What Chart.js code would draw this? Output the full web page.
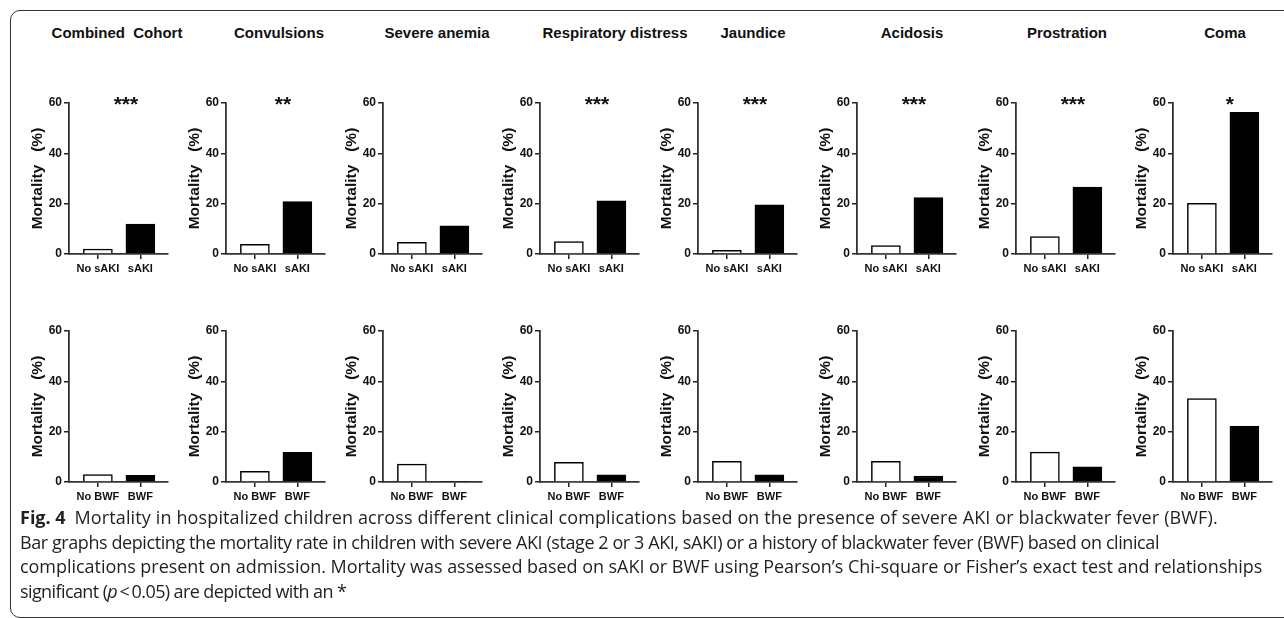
<!DOCTYPE html>
<html>
<head>
<meta charset="utf-8">
<script src="https://cdn.jsdelivr.net/npm/chart.js@4.4.1/dist/chart.umd.min.js"></script>
<style>
  html, body { margin: 0; padding: 0; background: #fff; }
  body { width: 1284px; height: 618px; overflow: hidden; position: relative; }
  .frame {
    position: absolute; left: 10px; top: 10px; width: 1290px; height: 608px;
    border: 1.2px solid #333; border-radius: 10px; box-sizing: border-box;
  }
  .ttl {
    position: absolute; top: 24px; height: 17px; line-height: 17px;
    font: bold 15px "Liberation Sans", Arial, sans-serif; color: #111;
    white-space: pre; transform: translateX(-50%);
  }
  .panel { position: absolute; }
  .caption {
    position: absolute; left: 20px; top: 505px;
    font: 18px "Open Sans", sans-serif; color: #231f20;
    line-height: 24.6px; white-space: nowrap;
  }
  .caption span { display: block; }
  .caption b { font-weight: 700; margin-right: 4px; letter-spacing: 0; }
</style>
</head>
<body>
<div class="frame"></div>
<div id="titles"></div>
<div id="panels"></div>
<div class="caption">
<span style="letter-spacing:0.13px"><b>Fig. 4</b> Mortality in hospitalized children across different clinical complications based on the presence of severe AKI or blackwater fever (BWF).</span>
<span style="letter-spacing:-0.42px">Bar graphs depicting the mortality rate in children with severe AKI (stage 2 or 3 AKI, sAKI) or a history of blackwater fever (BWF) based on clinical</span>
<span style="letter-spacing:-0.04px">complications present on admission. Mortality was assessed based on sAKI or BWF using Pearson’s Chi-square or Fisher’s exact test and relationships</span>
<span style="letter-spacing:-0.6px">significant (<i>p</i>&thinsp;&lt;&thinsp;0.05) are depicted with an *</span>
</div>
<script>
const complications = ['Combined  Cohort', 'Convulsions', 'Severe anemia', 'Respiratory distress', 'Jaundice', 'Acidosis', 'Prostration', 'Coma'];
const sakiGroups = ['No sAKI', 'sAKI'];
const bwfGroups = ['No BWF', 'BWF'];

const noSaki = [2.0, 3.8, 4.6, 4.9, 1.5, 3.3, 6.9, 20.1];
const saki = [11.9, 20.8, 11.2, 21.1, 19.5, 22.4, 26.6, 56.3];
const noBwf = [2.9, 4.2, 7.1, 7.8, 8.2, 8.2, 11.9, 33.1];
const bwf = [2.7, 11.8, 0.3, 2.8, 2.8, 2.4, 6.0, 22.2];

const sakiStars = ['***', '**', '', '***', '***', '***', '***', '*'];
const yTicks = [0, 20, 40, 60];

// layout: pixel x of each y axis, title centres
const axisX = [69, 226, 383, 540, 698, 857, 1016, 1173];
const titleX = [117, 279, 437, 615, 753, 912, 1067, 1225];
const rowTop = [103, 331];

Chart.defaults.font.family = '"Liberation Sans", Arial, sans-serif';
Chart.defaults.font.weight = 'bold';
Chart.defaults.color = '#111';
Chart.defaults.animation = false;

const starPlugin = {
  id: 'stars',
  afterDraw(chart, args, opts) {
    if (!opts.text) return;
    const { ctx, scales } = chart;
    ctx.save();
    ctx.font = 'bold 21px "Liberation Sans", Arial, sans-serif';
    ctx.fillStyle = '#111';
    ctx.textAlign = 'center';
    ctx.textBaseline = 'alphabetic';
    ctx.fillText(opts.text, scales.x.getPixelForValue(0.66), scales.y.getPixelForValue(60) + 8);
    ctx.restore();
  }
};

const titlesEl = document.getElementById('titles');
complications.forEach((c, i) => {
  const d = document.createElement('div');
  d.className = 'ttl';
  d.style.left = titleX[i] + 'px';
  d.textContent = c;
  titlesEl.appendChild(d);
});

const panelsEl = document.getElementById('panels');

function makePanel(i, row, groups, a, b, stars) {
  const W = 60 + 100, H = 20 + 151 + 26;
  const wrap = document.createElement('div');
  wrap.className = 'panel';
  wrap.style.left = (axisX[i] - 60) + 'px';
  wrap.style.top = (rowTop[row] - 20) + 'px';
  wrap.style.width = W + 'px';
  wrap.style.height = H + 'px';
  const cv = document.createElement('canvas');
  wrap.appendChild(cv);
  panelsEl.appendChild(wrap);

  new Chart(cv, {
    type: 'bar',
    data: {
      datasets: [{
        data: [{ x: 0, y: a }, { x: 1, y: b }],
        backgroundColor: ['#ffffff', '#000000'],
        borderColor: '#000',
        borderWidth: 1.5,
        barThickness: 29
      }]
    },
    options: {
      responsive: true,
      maintainAspectRatio: false,
      layout: { padding: { top: 20, right: 1, left: 0, bottom: 0 } },
      plugins: {
        legend: { display: false },
        tooltip: { enabled: false },
        stars: { text: stars }
      },
      scales: {
        x: {
          type: 'linear',
          min: -0.68,
          max: 1.65,
          offset: false,
          afterBuildTicks: s => { s.ticks = [{ value: 0 }, { value: 1 }]; },
          afterFit: s => { s.height = 26; },
          ticks: {
            callback: v => groups[v],
            font: { size: 11, weight: 'bold' },
            color: '#111',
            padding: 3.5,
            maxRotation: 0,
            autoSkip: false
          },
          grid: { display: true, drawOnChartArea: false, drawTicks: true, tickLength: 5, color: '#222', lineWidth: 1.5, offset: false },
          border: { display: true, color: '#333', width: 1.8 }
        },
        y: {
          min: 0,
          max: 60,
          afterBuildTicks: s => { s.ticks = yTicks.map(v => ({ value: v })); },
          afterFit: s => { s.width = 60; },
          ticks: {
            font: { size: 12, weight: 'bold' },
            color: '#111',
            padding: 2
          },
          grid: { display: true, drawOnChartArea: false, drawTicks: true, tickLength: 5, color: '#222', lineWidth: 1.5 },
          border: { display: true, color: '#333', width: 1.8 },
          title: {
            display: true,
            text: 'Mortality   (%)',
            font: { size: 15.5, weight: 'bold' },
            color: '#111',
            padding: { top: 19.5, bottom: 0 }
          }
        }
      }
    },
    plugins: [starPlugin]
  });
}

complications.forEach((c, i) => {
  makePanel(i, 0, sakiGroups, noSaki[i], saki[i], sakiStars[i]);
  makePanel(i, 1, bwfGroups, noBwf[i], bwf[i], '');
});
</script>
</body>
</html>
